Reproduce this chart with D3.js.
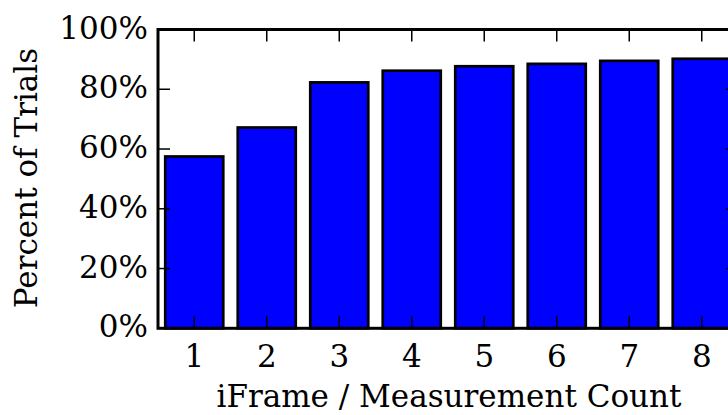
<!DOCTYPE html>
<html><head><meta charset="utf-8">
<script src="https://cdn.jsdelivr.net/npm/d3@7"></script>
<style>html,body{margin:0;padding:0;background:#fff;overflow:hidden}</style>
</head><body>
<svg id="c" width="728" height="415"></svg>
<script>
const categories = [1, 2, 3, 4, 5, 6, 7, 8];
const values = [0.575, 0.672, 0.823, 0.862, 0.877, 0.885, 0.895, 0.902];
const yTicks = [0, 0.2, 0.4, 0.6, 0.8, 1.0];
const xLabel = "iFrame / Measurement Count";
const yLabel = "Percent of Trials";

const svg = d3.select("#c");
const L = 158, R = 738, T = 29.5, B = 328.3;
const x = d3.scaleLinear().domain([0.5, 8.5]).range([L, R]);
const y = d3.scaleLinear().domain([0, 1]).range([B, T]);
const font = "DejaVu Serif";
const fs = 31;
const tickLen = 12;

// bars
svg.append("g").selectAll("rect").data(categories).join("rect")
  .attr("x", (d) => x(d - 0.4))
  .attr("width", (d) => x(d + 0.4) - x(d - 0.4))
  .attr("y", (d, i) => y(values[i]))
  .attr("height", (d, i) => y(0) - y(values[i]))
  .attr("fill", "#0000ff")
  .attr("stroke", "#000")
  .attr("stroke-width", 2.7);

// ticks
const tg = svg.append("g").attr("stroke", "#000").attr("stroke-width", 1.5);
yTicks.forEach(t => {
  tg.append("line").attr("x1", L).attr("x2", L + tickLen).attr("y1", y(t)).attr("y2", y(t));
  tg.append("line").attr("x1", R).attr("x2", R - tickLen).attr("y1", y(t)).attr("y2", y(t));
});
categories.forEach(c => {
  tg.append("line").attr("x1", x(c)).attr("x2", x(c)).attr("y1", B).attr("y2", B - tickLen);
  tg.append("line").attr("x1", x(c)).attr("x2", x(c)).attr("y1", T).attr("y2", T + tickLen);
});

// spines
svg.append("rect").attr("x", L).attr("y", T).attr("width", R - L).attr("height", B - T)
  .attr("fill", "none").attr("stroke", "#000").attr("stroke-width", 3);

// tick labels
const fmt = d3.format(".0%");
svg.append("g").selectAll("text").data(yTicks).join("text")
  .attr("x", L - 10).attr("y", d => y(d) + 9)
  .attr("text-anchor", "end").attr("font-family", font).attr("font-size", fs)
  .text(d => fmt(d));
svg.append("g").selectAll("text").data(categories).join("text")
  .attr("x", d => x(d)).attr("y", 366.5)
  .attr("text-anchor", "middle").attr("font-family", font).attr("font-size", fs)
  .text(d => d);

// axis labels
svg.append("text").attr("x", (215 + 683) / 2).attr("y", 407)
  .attr("text-anchor", "middle").attr("font-family", font).attr("font-size", fs)
  .text(xLabel);
svg.append("text").attr("transform", `translate(37,178) rotate(-90)`)
  .attr("text-anchor", "middle").attr("font-family", font).attr("font-size", fs)
  .text(yLabel);
</script>
</body></html>
